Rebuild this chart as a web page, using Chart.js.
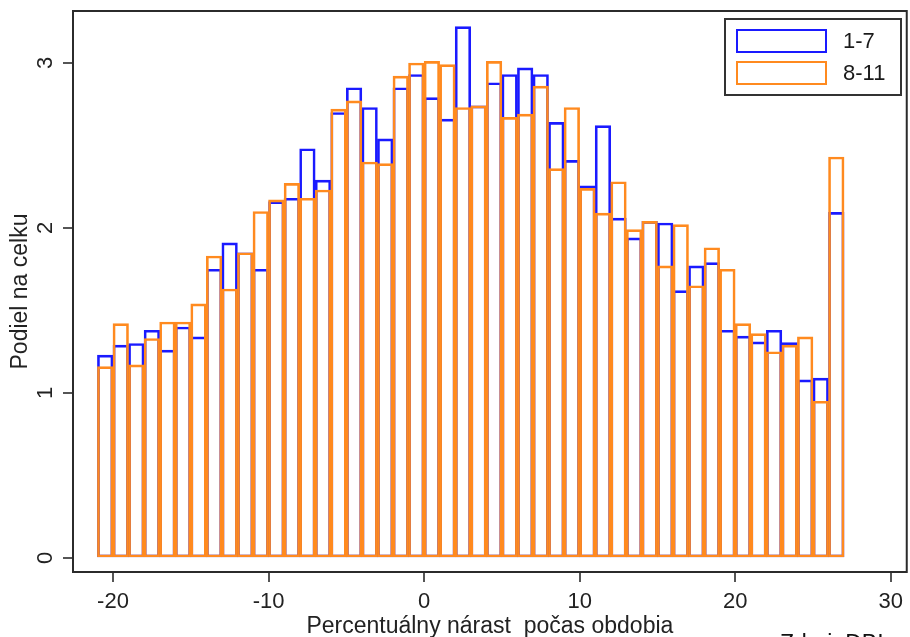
<!DOCTYPE html>
<html><head><meta charset="utf-8">
<script src="https://cdn.jsdelivr.net/npm/chart.js@4.4.1/dist/chart.umd.min.js"></script>
<style>html,body{margin:0;padding:0;background:#fff}#wrap{width:910px;height:637px;position:relative}</style>
</head><body><div id="wrap"><canvas id="c"></canvas></div>
<script>
// ---- data ----
const binCenters = [-20.5,-19.5,-18.5,-17.5,-16.5,-15.5,-14.5,-13.5,-12.5,-11.5,-10.5,-9.5,-8.5,-7.5,-6.5,-5.5,-4.5,-3.5,-2.5,-1.5,-0.5,0.5,1.5,2.5,3.5,4.5,5.5,6.5,7.5,8.5,9.5,10.5,11.5,12.5,13.5,14.5,15.5,16.5,17.5,18.5,19.5,20.5,21.5,22.5,23.5,24.5,25.5,26.5];
const share1to7 = [1.23,1.29,1.30,1.38,1.26,1.40,1.34,1.75,1.91,1.85,1.75,2.16,2.18,2.48,2.29,2.70,2.85,2.73,2.54,2.85,2.93,2.79,2.66,3.22,2.74,2.88,2.93,2.97,2.93,2.64,2.41,2.255,2.62,2.06,1.94,2.04,2.03,1.62,1.77,1.79,1.38,1.345,1.31,1.38,1.305,1.08,1.09,2.095];
const share8to11 = [1.16,1.42,1.17,1.33,1.43,1.43,1.54,1.83,1.63,1.85,2.10,2.17,2.27,2.18,2.23,2.72,2.77,2.40,2.39,2.92,3.00,3.01,2.99,2.73,2.74,3.01,2.67,2.69,2.86,2.36,2.73,2.24,2.09,2.28,1.99,2.04,1.77,2.02,1.65,1.88,1.75,1.42,1.36,1.25,1.29,1.34,0.95,2.43];
const xTickValues = [-20,-10,0,10,20,30];
const yTickValues = [0,1,2,3];
const seriesLabels = ['1-7','8-11'];
const xTitle = 'Percentuálny nárast  počas obdobia';
const yTitle = 'Podiel na celku';
const sourceNote = 'Zdroj: DBI';

const BLUE = '#1a1aff', ORANGE = '#ff8a1f';
const FONT = '"Liberation Sans", Arial, sans-serif';

const toPoints = vals => binCenters.map((x, i) => ({x, y: vals[i]}));

const decorPlugin = {
  id: 'decor',
  afterDraw(chart) {
    const ctx = chart.ctx, a = chart.chartArea;
    ctx.save();
    // frame
    ctx.strokeStyle = '#2b2b2b'; ctx.lineWidth = 2;
    ctx.strokeRect(a.left, a.top, a.right - a.left, a.bottom - a.top);
    // rotated y tick labels
    const ys = chart.scales.y;
    ctx.fillStyle = '#222'; ctx.font = '22px ' + FONT;
    ctx.textAlign = 'center'; ctx.textBaseline = 'middle';
    ys.ticks.forEach(t => {
      const py = ys.getPixelForValue(t.value);
      ctx.save(); ctx.translate(45.5, py); ctx.rotate(-Math.PI / 2);
      ctx.fillText(String(t.value), 0, 0); ctx.restore();
    });
    // legend
    ctx.strokeStyle = '#333'; ctx.lineWidth = 2;
    ctx.strokeRect(725, 19, 176, 76);
    ctx.textAlign = 'left';
    chart.data.datasets.forEach((ds, i) => {
      const y = 30 + i * 32;
      ctx.strokeStyle = ds.borderColor; ctx.lineWidth = 2;
      ctx.strokeRect(737, y, 89, 22);
      ctx.fillStyle = '#1a1a1a';
      ctx.fillText(ds.label, 843, y + 11.5);
    });
    // source note (cut off at bottom)
    ctx.fillStyle = '#111'; ctx.font = '23px ' + FONT;
    ctx.textBaseline = 'alphabetic';
    ctx.fillText(sourceNote, 780, 651);
    ctx.restore();
  }
};

new Chart(document.getElementById('c'), {
  type: 'bar',
  data: {
    datasets: [
      {label: seriesLabels[0], data: toPoints(share1to7), borderColor: BLUE, backgroundColor: 'rgba(0,0,0,0)', borderWidth: 2, borderSkipped: false, order: 1},
      {label: seriesLabels[1], data: toPoints(share8to11), borderColor: ORANGE, backgroundColor: 'rgba(0,0,0,0)', borderWidth: 2, borderSkipped: false, order: 0}
    ]
  },
  options: {
    responsive: true, maintainAspectRatio: false, animation: false,
    layout: {padding: {top: 11, right: 2, left: 0, bottom: 0}},
    datasets: {bar: {grouped: false, barPercentage: 1, categoryPercentage: 1}},
    plugins: {legend: {display: false}, tooltip: {enabled: false}},
    scales: {
      x: {
        type: 'linear', min: -22.57, max: 31.03, offset: false,
        afterBuildTicks: s => { s.ticks = xTickValues.map(v => ({value: v})); },
        afterFit: s => { s.height = 65; },
        grid: {offset: false, drawOnChartArea: false, drawTicks: true, tickLength: 10, tickColor: '#555', lineWidth: 2},
        border: {display: false},
        ticks: {color: '#222', font: {family: FONT, size: 22}, padding: 7, maxRotation: 0, autoSkip: false},
        title: {display: true, text: xTitle, color: '#222', font: {family: FONT, size: 23, lineHeight: 0.91}, padding: {top: 0, bottom: 0}}
      },
      y: {
        type: 'linear', min: -0.0848, max: 3.315,
        afterBuildTicks: s => { s.ticks = yTickValues.map(v => ({value: v})); },
        afterFit: s => { s.width = 73; },
        grid: {drawOnChartArea: false, drawTicks: true, tickLength: 10, tickColor: '#555', lineWidth: 2},
        border: {display: false},
        ticks: {display: false},
        title: {display: true, text: yTitle, color: '#222', font: {family: FONT, size: 23, lineHeight: 1.2}, padding: {top: 6.5, bottom: 0}}
      }
    }
  },
  plugins: [decorPlugin]
});
</script>
</body></html>
